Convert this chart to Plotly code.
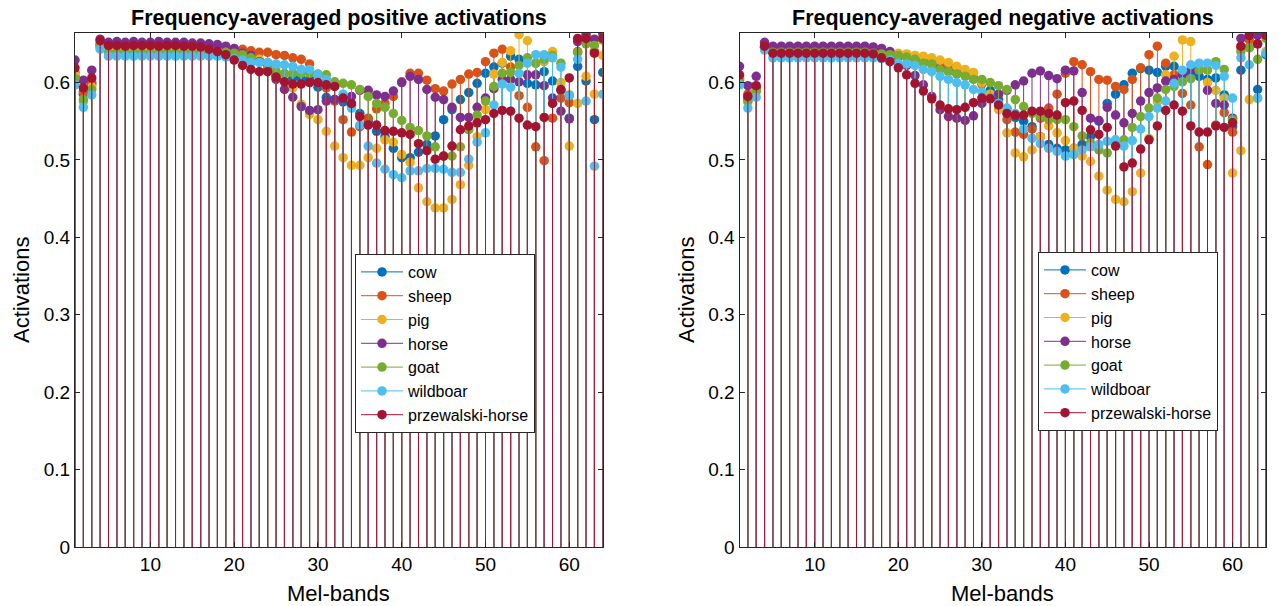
import plotly.graph_objects as go

bands = list(range(1, 65))
series_names = ["cow", "sheep", "pig", "horse", "goat", "wildboar", "przewalski-horse"]
colors = ["#0072BD", "#D95319", "#EDB120", "#7E2F8E", "#77AC30", "#4DBEEE", "#A2142F"]

# ---------------- positive activations ----------------
pos_cow = [0.608, 0.585, 0.598, 0.648,
           0.642, 0.642, 0.642, 0.642, 0.642, 0.642, 0.642, 0.642, 0.642, 0.642, 0.642, 0.642,
           0.642, 0.642, 0.642, 0.640, 0.636, 0.632, 0.627, 0.620, 0.609, 0.607, 0.606, 0.605, 0.604, 0.594, 0.581,
           0.578, 0.575, 0.570, 0.560, 0.550, 0.537, 0.530, 0.515, 0.503, 0.503, 0.510, 0.520, 0.531, 0.552, 0.565, 0.578,
           0.587, 0.599, 0.612, 0.620, 0.625, 0.634, 0.630, 0.599, 0.597, 0.614, 0.602, 0.590, 0.554, 0.621, 0.602, 0.552, 0.613]
pos_sheep = [0.613, 0.588, 0.600, 0.650,
             0.644, 0.644, 0.644, 0.644, 0.644, 0.644, 0.644, 0.644, 0.644, 0.644, 0.644, 0.644,
             0.644, 0.644, 0.644, 0.643, 0.643, 0.641, 0.639, 0.639, 0.636, 0.635, 0.632, 0.630, 0.624, 0.610, 0.593,
             0.576, 0.552, 0.536, 0.543, 0.554, 0.566, 0.573, 0.582, 0.601, 0.612, 0.612, 0.603, 0.592, 0.589, 0.598, 0.604,
             0.611, 0.613, 0.627, 0.638, 0.643, 0.620, 0.583, 0.568, 0.517, 0.499, 0.554, 0.580, 0.574, 0.640, 0.660, 0.640, 0.655]
pos_pig = [0.610, 0.575, 0.594, 0.648,
           0.641, 0.641, 0.641, 0.641, 0.641, 0.641, 0.641, 0.641, 0.641, 0.641, 0.641, 0.641,
           0.641, 0.641, 0.641, 0.640, 0.637, 0.634, 0.630, 0.626, 0.620, 0.610, 0.593, 0.572, 0.559, 0.552, 0.537,
           0.518, 0.503, 0.493, 0.493, 0.503, 0.515, 0.526, 0.523, 0.507, 0.497, 0.464, 0.446, 0.438, 0.438, 0.449, 0.468,
           0.493, 0.530, 0.565, 0.611, 0.626, 0.641, 0.662, 0.654, 0.625, 0.627, 0.640, 0.600, 0.518, 0.573, 0.608, 0.585, 0.635]
pos_horse = [0.629, 0.603, 0.616, 0.656,
             0.652, 0.653, 0.652, 0.653, 0.652, 0.652, 0.653, 0.652, 0.652, 0.652, 0.651, 0.651,
             0.650, 0.649, 0.647, 0.644, 0.638, 0.635, 0.627, 0.616, 0.604, 0.591, 0.581, 0.569, 0.564, 0.565, 0.576,
             0.578, 0.580, 0.582, 0.590, 0.590, 0.584, 0.582, 0.589, 0.600, 0.608, 0.604, 0.591, 0.581, 0.578, 0.568, 0.555,
             0.555, 0.568, 0.580, 0.592, 0.604, 0.604, 0.601, 0.610, 0.610, 0.596, 0.580, 0.563, 0.553, 0.653, 0.663, 0.656, 0.663]
pos_goat = [0.605, 0.578, 0.591, 0.646,
            0.639, 0.639, 0.639, 0.639, 0.639, 0.639, 0.639, 0.639, 0.639, 0.639, 0.639, 0.639,
            0.639, 0.639, 0.639, 0.638, 0.636, 0.632, 0.626, 0.620, 0.614, 0.612, 0.612, 0.612, 0.612, 0.611, 0.610,
            0.601, 0.599, 0.597, 0.591, 0.582, 0.573, 0.568, 0.560, 0.551, 0.542, 0.538, 0.531, 0.517, 0.505, 0.505, 0.517,
            0.539, 0.558, 0.576, 0.595, 0.612, 0.613, 0.622, 0.632, 0.625, 0.630, 0.635, 0.625, 0.584, 0.639, 0.650, 0.648, 0.655]
pos_wildboar = [0.597, 0.568, 0.584, 0.643,
                0.634, 0.634, 0.634, 0.634, 0.634, 0.634, 0.634, 0.634, 0.634, 0.634, 0.634, 0.634,
                0.634, 0.634, 0.633, 0.631, 0.629, 0.626, 0.626, 0.626, 0.624, 0.623, 0.621, 0.617, 0.617, 0.610, 0.604,
                0.595, 0.585, 0.567, 0.545, 0.518, 0.496, 0.488, 0.481, 0.477, 0.486, 0.486, 0.489, 0.489, 0.488, 0.484, 0.484,
                0.501, 0.523, 0.535, 0.571, 0.598, 0.594, 0.612, 0.625, 0.636, 0.636, 0.632, 0.620, 0.583, 0.630, 0.576, 0.492, 0.585]
pos_przewalski = [0.619, 0.593, 0.606, 0.654,
                  0.648, 0.648, 0.647, 0.648, 0.648, 0.648, 0.647, 0.648, 0.648, 0.647, 0.647, 0.646,
                  0.643, 0.640, 0.636, 0.629, 0.622, 0.617, 0.614, 0.614, 0.607, 0.601, 0.598, 0.598, 0.600, 0.600, 0.597,
                  0.595, 0.580, 0.573, 0.556, 0.545, 0.545, 0.538, 0.537, 0.535, 0.533, 0.521, 0.512, 0.501, 0.505, 0.518, 0.539,
                  0.544, 0.548, 0.552, 0.560, 0.564, 0.563, 0.554, 0.545, 0.543, 0.555, 0.573, 0.591, 0.606, 0.657, 0.657, 0.638, 0.657]

# ---------------- negative activations ----------------
neg_cow = [0.605, 0.578, 0.590, 0.645,
           0.639, 0.639, 0.639, 0.639, 0.639, 0.639, 0.639, 0.639, 0.639, 0.639, 0.639, 0.639,
           0.638, 0.637, 0.636, 0.635, 0.633, 0.630, 0.627, 0.624, 0.619, 0.615, 0.612, 0.610, 0.605, 0.600, 0.590,
           0.578, 0.566, 0.555, 0.550, 0.543, 0.530, 0.520, 0.515, 0.513, 0.515, 0.520, 0.530, 0.550, 0.573, 0.585, 0.597,
           0.612, 0.618, 0.616, 0.613, 0.621, 0.621, 0.615, 0.612, 0.608, 0.604, 0.606, 0.584, 0.543, 0.616, 0.645, 0.591, 0.636]
neg_sheep = [0.607, 0.585, 0.594, 0.646,
             0.641, 0.641, 0.641, 0.641, 0.641, 0.641, 0.641, 0.641, 0.641, 0.641, 0.641, 0.641,
             0.640, 0.639, 0.638, 0.637, 0.636, 0.634, 0.632, 0.630, 0.627, 0.624, 0.620, 0.614, 0.605, 0.598, 0.585,
             0.570, 0.552, 0.536, 0.533, 0.540, 0.554, 0.567, 0.585, 0.612, 0.627, 0.623, 0.614, 0.604, 0.603, 0.595, 0.591,
             0.604, 0.619, 0.636, 0.647, 0.625, 0.610, 0.586, 0.571, 0.517, 0.494, 0.545, 0.561, 0.536, 0.645, 0.655, 0.650, 0.660]
neg_pig = [0.604, 0.575, 0.588, 0.645,
           0.640, 0.640, 0.640, 0.640, 0.640, 0.640, 0.640, 0.640, 0.640, 0.640, 0.640, 0.640,
           0.639, 0.639, 0.638, 0.638, 0.637, 0.635, 0.634, 0.632, 0.629, 0.626, 0.621, 0.617, 0.613, 0.600, 0.585,
           0.565, 0.535, 0.509, 0.504, 0.513, 0.530, 0.544, 0.535, 0.525, 0.515, 0.505, 0.498, 0.479, 0.461, 0.449, 0.446,
           0.459, 0.483, 0.528, 0.575, 0.610, 0.634, 0.655, 0.653, 0.620, 0.600, 0.590, 0.580, 0.483, 0.512, 0.578, 0.580, 0.640]
neg_horse = [0.621, 0.596, 0.608, 0.652,
             0.647, 0.647, 0.647, 0.647, 0.647, 0.647, 0.647, 0.647, 0.647, 0.647, 0.647, 0.647,
             0.646, 0.644, 0.640, 0.633, 0.622, 0.609, 0.597, 0.582, 0.565, 0.556, 0.554, 0.551, 0.557, 0.573, 0.580,
             0.585, 0.590, 0.597, 0.602, 0.612, 0.615, 0.609, 0.605, 0.616, 0.615, 0.587, 0.554, 0.551, 0.568, 0.558, 0.548,
             0.560, 0.576, 0.587, 0.593, 0.602, 0.604, 0.610, 0.616, 0.616, 0.590, 0.573, 0.571, 0.554, 0.657, 0.661, 0.661, 0.661]
neg_goat = [0.603, 0.576, 0.589, 0.645,
            0.639, 0.639, 0.639, 0.639, 0.639, 0.639, 0.639, 0.639, 0.639, 0.639, 0.639, 0.639,
            0.638, 0.637, 0.636, 0.635, 0.633, 0.630, 0.625, 0.624, 0.617, 0.614, 0.611, 0.608, 0.604, 0.604, 0.600,
            0.596, 0.591, 0.578, 0.569, 0.560, 0.556, 0.552, 0.552, 0.552, 0.543, 0.531, 0.522, 0.513, 0.509, 0.524, 0.526,
            0.542, 0.556, 0.567, 0.580, 0.591, 0.595, 0.601, 0.605, 0.616, 0.616, 0.627, 0.617, 0.552, 0.640, 0.645, 0.630, 0.657]
neg_wildboar = [0.597, 0.567, 0.581, 0.642,
                0.632, 0.632, 0.632, 0.632, 0.632, 0.632, 0.632, 0.632, 0.632, 0.632, 0.632, 0.632,
                0.632, 0.631, 0.629, 0.625, 0.624, 0.622, 0.617, 0.614, 0.608, 0.604, 0.600, 0.597, 0.591, 0.588, 0.580,
                0.573, 0.567, 0.560, 0.540, 0.528, 0.521, 0.515, 0.511, 0.505, 0.507, 0.513, 0.517, 0.520, 0.524, 0.526, 0.518,
                0.525, 0.540, 0.556, 0.567, 0.576, 0.599, 0.616, 0.623, 0.625, 0.625, 0.622, 0.608, 0.580, 0.632, 0.623, 0.580, 0.638]
neg_przewalski = [0.610, 0.582, 0.596, 0.647,
                  0.638, 0.638, 0.638, 0.638, 0.638, 0.638, 0.638, 0.638, 0.638, 0.638, 0.638, 0.638,
                  0.637, 0.632, 0.627, 0.619, 0.610, 0.599, 0.589, 0.579, 0.571, 0.566, 0.565, 0.568, 0.574, 0.580, 0.579,
                  0.571, 0.560, 0.558, 0.558, 0.563, 0.563, 0.560, 0.558, 0.574, 0.576, 0.564, 0.539, 0.533, 0.542, 0.518, 0.491,
                  0.496, 0.514, 0.526, 0.544, 0.564, 0.571, 0.563, 0.544, 0.536, 0.536, 0.544, 0.542, 0.548, 0.647, 0.661, 0.650, 0.661]

pos_series = [pos_cow, pos_sheep, pos_pig, pos_horse, pos_goat, pos_wildboar, pos_przewalski]
neg_series = [neg_cow, neg_sheep, neg_pig, neg_horse, neg_goat, neg_wildboar, neg_przewalski]

x_ticks = [10, 20, 30, 40, 50, 60]
y_ticks = [0, 0.1, 0.2, 0.3, 0.4, 0.5, 0.6]
y_tick_text = ["0", "0.1", "0.2", "0.3", "0.4", "0.5", "0.6"]

FONT = "Liberation Sans, Arial, sans-serif"
AXC = "#262626"
MS = 9.5

fig = go.Figure()


def add_stems(series, xa, ya, legend_name):
    for name, col, vals in zip(series_names, colors, series):
        xs, ys = [], []
        for b, v in zip(bands, vals):
            xs += [b, b, None]
            ys += [0, v, None]
        fig.add_trace(go.Scatter(x=xs, y=ys, mode="lines", line=dict(color=col, width=1),
                                 xaxis=xa, yaxis=ya, showlegend=False, hoverinfo="skip"))
        fig.add_trace(go.Scatter(x=bands, y=vals, mode="markers",
                                 marker=dict(color=col, size=MS, line=dict(width=0)),
                                 xaxis=xa, yaxis=ya, showlegend=False, name=name))
    for name, col in zip(series_names, colors):
        fig.add_trace(go.Scatter(x=[None], y=[None], mode="lines+markers", name=name,
                                 line=dict(color=col, width=1), marker=dict(color=col, size=MS),
                                 xaxis=xa, yaxis=ya, legend=legend_name, showlegend=True))


add_stems(pos_series, "x", "y", "legend")
add_stems(neg_series, "x2", "y2", "legend2")

W, H = 1279, 606
T, B = 33, 59
PH = H - T - B


def px_x(p):
    return p / W


def px_y(p):
    return (H - B - p) / PH


axis_common = dict(showline=True, linecolor=AXC, linewidth=1, mirror="ticks", ticks="inside",
                   ticklen=5, tickcolor=AXC, showgrid=False, zeroline=False,
                   tickfont=dict(family=FONT, size=19, color="#000000"))

dom1 = [px_x(75), px_x(602.8)]
dom2 = [px_x(739.5), px_x(1266)]

legend_common = dict(font=dict(family=FONT, size=16, color="#000000"), bgcolor="white",
                     bordercolor=AXC, borderwidth=1, xanchor="left", yanchor="top",
                     tracegroupgap=0, itemwidth=42)

fig.update_layout(
    width=W, height=H,
    margin=dict(l=0, r=0, t=T, b=B),
    paper_bgcolor="white", plot_bgcolor="white",
    xaxis=dict(domain=dom1, range=[1, 64], tickvals=x_ticks, anchor="y", **axis_common),
    yaxis=dict(domain=[0, 1], range=[0, 0.664], tickvals=y_ticks, ticktext=y_tick_text, anchor="x", **axis_common),
    xaxis2=dict(domain=dom2, range=[1, 64], tickvals=x_ticks, anchor="y2", **axis_common),
    yaxis2=dict(domain=[0, 1], range=[0, 0.664], tickvals=y_ticks, ticktext=y_tick_text, anchor="x2", **axis_common),
    legend=dict(x=px_x(355), y=px_y(254), **legend_common),
    legend2=dict(x=px_x(1038), y=px_y(252), **legend_common),
    showlegend=True,
)

ann = [
    dict(text="<b>Frequency-averaged positive activations</b>", x=(dom1[0] + dom1[1]) / 2, y=px_y(18),
         font=dict(size=21.5)),
    dict(text="<b>Frequency-averaged negative activations</b>", x=(dom2[0] + dom2[1]) / 2, y=px_y(18),
         font=dict(size=21.5)),
    dict(text="Mel-bands", x=(dom1[0] + dom1[1]) / 2, y=px_y(593), font=dict(size=22)),
    dict(text="Mel-bands", x=(dom2[0] + dom2[1]) / 2, y=px_y(593), font=dict(size=22)),
    dict(text="Activations", x=px_x(21), y=px_y(290), textangle=-90, font=dict(size=22)),
    dict(text="Activations", x=px_x(686), y=px_y(290), textangle=-90, font=dict(size=22)),
]
for a in ann:
    a.update(xref="paper", yref="paper", showarrow=False, xanchor="center", yanchor="middle")
    a["font"].update(family=FONT, color="#000000")
fig.update_layout(annotations=ann)

fig.write_html("out.html")
